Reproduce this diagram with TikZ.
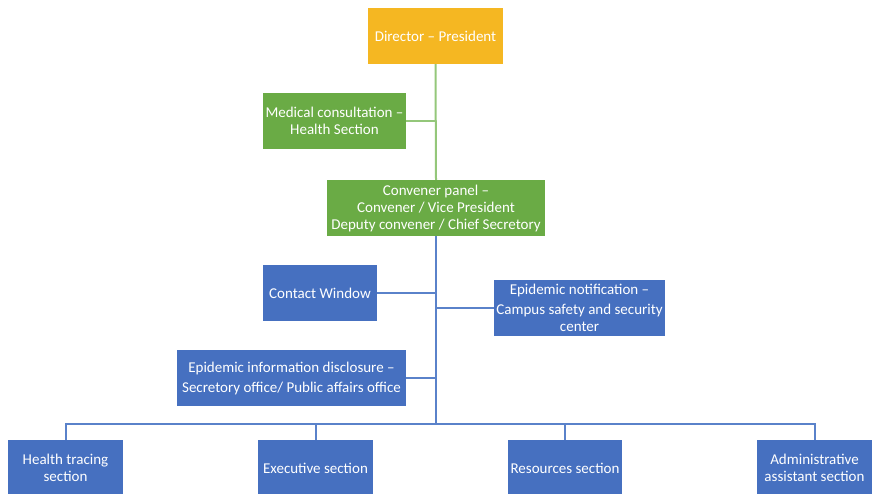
\documentclass[tikz,border=0pt]{standalone}
\usepackage{fontspec}
\setmainfont{Carlito}
\definecolor{orgOrange}{HTML}{F5B722}
\definecolor{orgGreen}{HTML}{6AAB45}
\definecolor{orgBlue}{HTML}{4670C0}
\definecolor{lineGreen}{HTML}{94C77A}
\definecolor{lineBlue}{HTML}{5A82CA}
\tikzset{
  box/.style={draw=none, text=white, align=center, inner sep=2pt,
              font=\fontsize{15}{17}\selectfont},
  topbox/.style={box, fill=orgOrange},
  greenbox/.style={box, fill=orgGreen},
  bluebox/.style={box, fill=orgBlue},
  gline/.style={draw=lineGreen, line width=2pt},
  bline/.style={draw=lineBlue, line width=2pt},
}
\begin{document}
\begin{tikzpicture}[x=1pt,y=-1pt]
\useasboundingbox (0,0) rectangle (872,493);
% boxes, placed by pixel corners
\node[topbox, minimum width=135pt, minimum height=56pt] (dir) at (435.5,36) {Director -- President};
\node[greenbox, minimum width=143pt, minimum height=56pt] (med) at (334.5,121) {Medical consultation --\\Health Section};
\node[greenbox, minimum width=218pt, minimum height=56pt] (conv) at (436,208) {Convener panel --\\Convener / Vice President\\Deputy convener / Chief Secretory};
\node[bluebox, minimum width=114pt, minimum height=56pt] (contact) at (320,293) {Contact Window};
\node[bluebox, minimum width=169pt, minimum height=56pt] (notif) at (579.5,308) {Epidemic notification --\\[3pt]Campus safety and security\\center};
\node[bluebox, minimum width=229pt, minimum height=56pt] (discl) at (291.5,378) {Epidemic information disclosure --\\[3pt]Secretory office/ Public affairs office};
\node[bluebox, minimum width=115pt, minimum height=56pt] (trace) at (65.5,468) {Health tracing\\section};
\node[bluebox, minimum width=115pt, minimum height=56pt] (exec) at (315.5,468) {Executive section};
\node[bluebox, minimum width=114pt, minimum height=56pt] (res) at (565,468) {Resources section};
\node[bluebox, minimum width=115pt, minimum height=56pt] (admin) at (814.5,468) {Administrative\\assistant section};
% junction points on the trunk
\coordinate (jmed) at (435.5,121);
\coordinate (jcon) at (436,293);
\coordinate (jnot) at (436,308);
\coordinate (jdis) at (436,378);
\coordinate (bus) at (436,424);
% green trunk
\draw[gline] (dir.south) -- (conv.north);
\draw[gline] (med.east) -- (jmed);
% blue trunk and branches
\draw[bline] (conv.south) -- (bus);
\draw[bline] (contact.east) -- (jcon);
\draw[bline] (notif.west) -- (jnot);
\draw[bline] (discl.east) -- (jdis);
\draw[bline] (trace.north) |- (bus);
\draw[bline] (admin.north) |- (bus);
\draw[bline] (exec.north) -- (exec.north |- bus);
\draw[bline] (res.north) -- (res.north |- bus);
\end{tikzpicture}
\end{document}
